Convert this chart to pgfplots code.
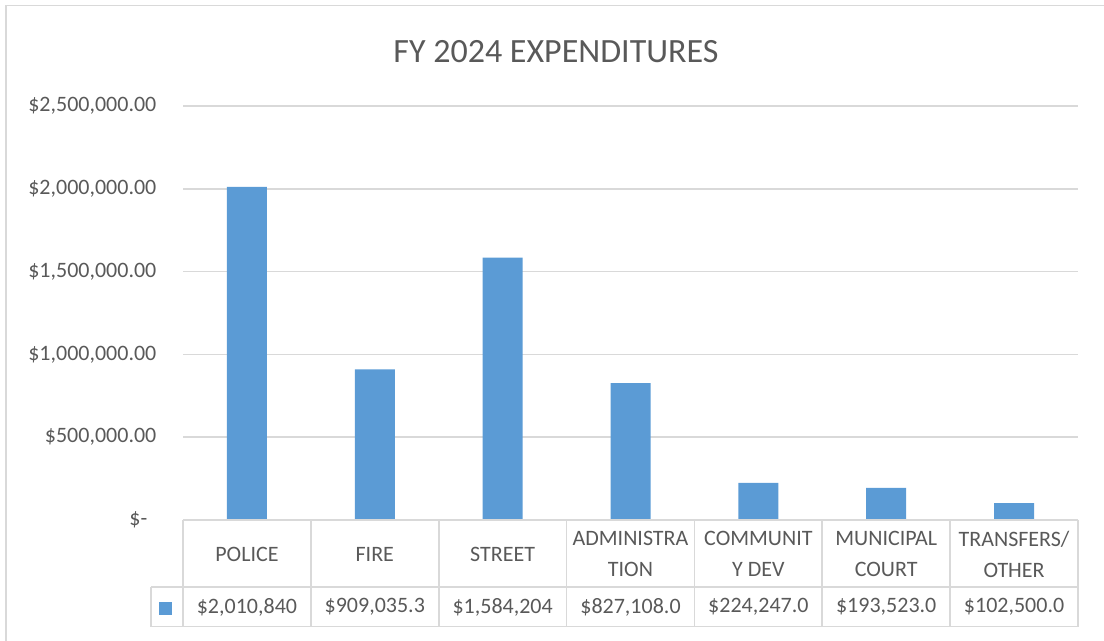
\documentclass[border=0pt]{standalone}
\usepackage{fontspec}
\setmainfont{Carlito}
\usepackage{pgfplots}
\pgfplotsset{compat=1.18}
\definecolor{cBar}{HTML}{5B9BD5}
\definecolor{cText}{HTML}{595959}
\definecolor{cGrid}{HTML}{D9D9D9}

\begin{document}
\begin{tikzpicture}
\path[use as bounding box] (0,0) rectangle (552pt,320.5pt);
% chart area border (left and top only visible)
\draw[cGrid, line width=0.9pt] (3pt,0) -- (3pt,317.75pt) -- (552pt,317.75pt);
\node[font=\fontsize{17}{20}\selectfont, text=cText] at (278pt,294.75pt) {FY 2024 EXPENDITURES};

\begin{axis}[
  at={(91.5pt,60.5pt)}, anchor=south west,
  scale only axis, width=447.5pt, height=207pt,
  xmin=-0.5, xmax=6.5, ymin=0, ymax=2500000,
  clip=false,
  axis line style={draw=none},
  major tick length=0pt,
  ymajorgrids, grid style={cGrid, line width=0.8pt},
  ytick={0,500000,1000000,1500000,2000000,2500000},
  yticklabels={{\$-\rule{4.5pt}{0pt}},{\$500,000.00},{\$1,000,000.00},{\$1,500,000.00},{\$2,000,000.00},{\$2,500,000.00}},
  yticklabel style={anchor=east, xshift=-9.8pt, font=\fontsize{11}{13}\selectfont, text=cText},
  xtick={0,...,6},
  xticklabels={POLICE,FIRE,STREET,{ADMINISTRA\\TION},{COMMUNIT\\Y DEV},{MUNICIPAL\\COURT},{TRANSFERS/\\OTHER}},
  xticklabel style={anchor=center, yshift=-17pt, align=center,
    font=\fontsize{11}{15.5}\selectfont, text=cText},
  scaled y ticks=false,
]
\addplot[ybar, bar width=20pt, fill=cBar, draw=none] coordinates {
  (0,2010840) (1,909035.3) (2,1584204) (3,827108.0) (4,224247.0) (5,193523.0) (6,102500.0)};

% data table grid
\draw[cGrid, line width=0.9pt] (axis cs:-0.5,0) -- (axis cs:6.5,0);
\draw[cGrid, line width=0.9pt] ([xshift=-16pt,yshift=-33.5pt]axis cs:-0.5,0) -- ([yshift=-33.5pt]axis cs:6.5,0);
\draw[cGrid, line width=0.9pt] ([xshift=-16pt,yshift=-53.3pt]axis cs:-0.5,0) -- ([yshift=-53.3pt]axis cs:6.5,0);
\draw[cGrid, line width=0.9pt] ([xshift=-16pt,yshift=-33.5pt]axis cs:-0.5,0) -- ([xshift=-16pt,yshift=-53.3pt]axis cs:-0.5,0);
\pgfplotsinvokeforeach{-0.5,0.5,1.5,2.5,3.5,4.5,5.5,6.5}{
  \draw[cGrid, line width=0.9pt] (axis cs:#1,0) -- ([yshift=-53.3pt]axis cs:#1,0);
}
% legend key
\fill[cBar] ([xshift=-12pt,yshift=-40.85pt]axis cs:-0.5,0) rectangle ([xshift=-5.5pt,yshift=-47.5pt]axis cs:-0.5,0);
% values row
\node[font=\fontsize{11}{13}\selectfont, text=cText] at ([yshift=-43.5pt]axis cs:0,0) {\$2,010,840};
\node[font=\fontsize{11}{13}\selectfont, text=cText] at ([yshift=-43.5pt]axis cs:1,0) {\$909,035.3};
\node[font=\fontsize{11}{13}\selectfont, text=cText] at ([yshift=-43.5pt]axis cs:2,0) {\$1,584,204};
\node[font=\fontsize{11}{13}\selectfont, text=cText] at ([yshift=-43.5pt]axis cs:3,0) {\$827,108.0};
\node[font=\fontsize{11}{13}\selectfont, text=cText] at ([yshift=-43.5pt]axis cs:4,0) {\$224,247.0};
\node[font=\fontsize{11}{13}\selectfont, text=cText] at ([yshift=-43.5pt]axis cs:5,0) {\$193,523.0};
\node[font=\fontsize{11}{13}\selectfont, text=cText] at ([yshift=-43.5pt]axis cs:6,0) {\$102,500.0};
\end{axis}
\end{tikzpicture}
\end{document}
